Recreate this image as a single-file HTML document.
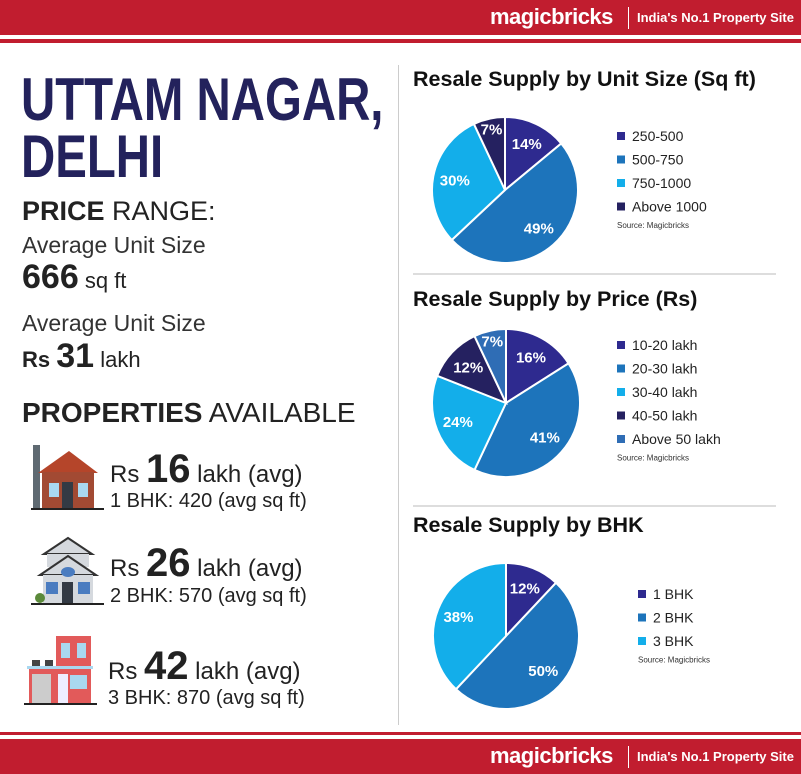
<!DOCTYPE html>
<html><head><meta charset="utf-8">
<style>
body{margin:0;width:801px;height:774px;overflow:hidden;background:#fff;font-family:"Liberation Sans",sans-serif;position:relative}
.abs{position:absolute;white-space:nowrap}
.band{position:absolute;left:0;width:801px;background:#c11d2f}
.logo{color:#fff;font-weight:bold;font-size:22px;letter-spacing:-0.5px}
.tag{color:#fff;font-weight:bold;font-size:13px}
.title{font-weight:bold;color:#23225c;font-size:60px;line-height:60px;transform:scaleX(0.79);transform-origin:0 0}
.dk{color:#222}
.pm{font-size:24px;line-height:40px}
.ps{font-size:20px;line-height:20px}
</style></head><body>
<div class="band" style="top:0;height:35px"></div>
<div class="band" style="top:39px;height:4px"></div>
<div class="abs logo" style="left:490px;top:4px">magicbricks</div>
<div class="abs" style="left:628px;top:7px;width:1px;height:22px;background:#fff"></div>
<div class="abs tag" style="left:637px;top:10px">India's No.1 Property Site</div>

<div class="band" style="top:732px;height:3px"></div>
<div class="band" style="top:739px;height:35px"></div>
<div class="abs logo" style="left:490px;top:743px">magicbricks</div>
<div class="abs" style="left:628px;top:746px;width:1px;height:22px;background:#fff"></div>
<div class="abs tag" style="left:637px;top:749px">India's No.1 Property Site</div>

<div class="abs" style="left:398px;top:65px;width:1px;height:660px;background:#ccc"></div>

<div class="abs title" style="left:21px;top:70px">UTTAM NAGAR,</div>
<div class="abs title" style="left:21px;top:127px">DELHI</div>
<div class="abs dk" style="left:22px;top:196px;font-size:27px"><b>PRICE</b> RANGE:</div>
<div class="abs" style="left:22px;top:232px;font-size:23px;color:#333">Average Unit Size</div>
<div class="abs dk" style="left:22px;top:258px;font-size:22px"><b style="font-size:34px">666</b> sq ft</div>
<div class="abs" style="left:22px;top:310px;font-size:23px;color:#333">Average Unit Size</div>
<div class="abs dk" style="left:22px;top:337px;font-size:22px"><b>Rs</b> <b style="font-size:34px">31</b> lakh</div>
<div class="abs dk" style="left:22px;top:397px;font-size:28px"><b>PROPERTIES</b> AVAILABLE</div>

<svg class="abs" style="left:0;top:430px" width="400" height="300">
 <g>
  <rect x="33" y="15" width="7" height="63" fill="#5f6a72"/>
  <polygon points="38,43 69,21 98,43" fill="#b5452a"/>
  <rect x="42" y="42" width="52" height="36" fill="#a24a33"/>
  <rect x="49" y="53" width="10" height="14" fill="#a9d8f0"/><rect x="78" y="53" width="10" height="14" fill="#a9d8f0"/>
  <rect x="62" y="52" width="11" height="26" fill="#333a44"/>
  <rect x="31" y="78" width="73" height="2" fill="#222"/>
 </g>
 <g>
  <polygon points="44,124 68,108 92,124" fill="#d5d9de" stroke="#333" stroke-width="2"/>
  <rect x="47" y="124" width="42" height="13" fill="#d5d9de"/>
  <polygon points="40,145 68,126 96,145" fill="#d5d9de" stroke="#333" stroke-width="2"/>
  <rect x="43" y="145" width="50" height="28" fill="#d5d9de"/>
  <ellipse cx="68" cy="142" rx="7" ry="5" fill="#4a7cc0"/>
  <rect x="46" y="152" width="12" height="12" fill="#4a7cc0"/><rect x="78" y="152" width="12" height="12" fill="#4a7cc0"/>
  <rect x="62" y="152" width="11" height="21" fill="#333a44"/>
  <circle cx="40" cy="168" r="5" fill="#5b8a3a"/>
  <rect x="31" y="173" width="73" height="2" fill="#222"/>
 </g>
 <g>
  <rect x="56" y="206" width="35" height="30" fill="#e25a5a"/>
  <rect x="61" y="213" width="9" height="15" fill="#a9d8f0"/><rect x="77" y="213" width="9" height="15" fill="#a9d8f0"/>
  <rect x="32" y="230" width="8" height="6" fill="#444"/><rect x="45" y="230" width="8" height="6" fill="#444"/>
  <rect x="27" y="236" width="66" height="3" fill="#a9d8f0"/>
  <rect x="29" y="239" width="62" height="34" fill="#e25a5a"/>
  <rect x="32" y="244" width="19" height="29" fill="#ccc"/>
  <rect x="58" y="244" width="10" height="29" fill="#eef"/>
  <rect x="70" y="245" width="17" height="14" fill="#a9d8f0"/>
  <rect x="24" y="273" width="73" height="2" fill="#222"/>
 </g>
</svg>

<div class="abs dk pm" style="left:110px;top:449px">Rs <b style="font-size:40px">16</b> lakh (avg)</div>
<div class="abs dk ps" style="left:110px;top:491px">1 BHK: 420 (avg sq ft)</div>
<div class="abs dk pm" style="left:110px;top:543px">Rs <b style="font-size:40px">26</b> lakh (avg)</div>
<div class="abs dk ps" style="left:110px;top:586px">2 BHK: 570 (avg sq ft)</div>
<div class="abs dk pm" style="left:108px;top:646px">Rs <b style="font-size:40px">42</b> lakh (avg)</div>
<div class="abs dk ps" style="left:108px;top:688px">3 BHK: 870 (avg sq ft)</div>

<svg id="charts" class="abs" style="left:0;top:0" width="801" height="774">
 <text x="413" y="86" font-size="21.5" font-weight="bold" fill="#111">Resale Supply by Unit Size (Sq ft)</text>
 <line x1="413" y1="274" x2="776" y2="274" stroke="#bbb"/>
 <text x="413" y="306" font-size="21.5" font-weight="bold" fill="#111">Resale Supply by Price (Rs)</text>
 <line x1="413" y1="506" x2="776" y2="506" stroke="#bbb"/>
 <text x="413" y="532" font-size="21.5" font-weight="bold" fill="#111">Resale Supply by BHK</text>
</svg>
<script>
const sizeCats=["250-500","500-750","750-1000","Above 1000"];
const sizeVals=[14,49,30,7];
const priceCats=["10-20 lakh","20-30 lakh","30-40 lakh","40-50 lakh","Above 50 lakh"];
const priceVals=[16,41,24,12,7];
const bhkCats=["1 BHK","2 BHK","3 BHK"];
const bhkVals=[12,50,38];
const sizeColors=["#2e2a8f","#1d74bb","#13aeea","#252160"];
const priceColors=["#2e2a8f","#1d74bb","#13aeea","#252160","#2f6db5"];
const bhkColors=["#2e2a8f","#1d74bb","#13aeea"];
const NS="http://www.w3.org/2000/svg";
const svg=document.getElementById("charts");
function mk(t,a){const e=document.createElementNS(NS,t);for(const k in a)e.setAttribute(k,a[k]);svg.appendChild(e);return e;}
function pie(id,cx,cy,r,cats,vals,cols,lx,ly,lstep){
 const tot=vals.reduce((a,b)=>a+b,0);let a0=-Math.PI/2;
 vals.forEach((v,i)=>{
  const a1=a0+v/tot*2*Math.PI;
  const x0=cx+r*Math.cos(a0),y0=cy+r*Math.sin(a0),x1=cx+r*Math.cos(a1),y1=cy+r*Math.sin(a1);
  const p=mk("path",{d:`M${cx},${cy}L${x0},${y0}A${r},${r} 0 ${a1-a0>Math.PI?1:0} 1 ${x1},${y1}Z`,fill:cols[i],stroke:"#fff","stroke-width":2});
  
  
  const am=(a0+a1)/2,rr=v<10?r*0.85:r*0.7;
  const t=mk("text",{x:cx+rr*Math.cos(am),y:cy+rr*Math.sin(am)+5,"text-anchor":"middle","font-size":15,"font-weight":"bold",fill:"#fff"});
  t.textContent=v+"%";
  
  
  a0=a1;
 });
 cats.forEach((c,i)=>{
  const y=ly+i*lstep;
  const s=mk("rect",{x:lx,y:y-9,width:8,height:8,fill:cols[i]});
  
  
  const t=mk("text",{x:lx+15,y:y,"font-size":14,fill:"#222"});
  t.textContent=c;
  
  
 });
 const s=mk("text",{x:lx,y:ly+cats.length*lstep-7,"font-size":8,fill:"#333"});
 s.textContent="Source: Magicbricks";
 
 
}
pie("unit-size-pie",505,190,73,sizeCats,sizeVals,sizeColors,617,141,23.5);
pie("price-pie",506,403,74,priceCats,priceVals,priceColors,617,350,23.5);
pie("bhk-pie",506,636,73,bhkCats,bhkVals,bhkColors,638,599,23.5);
</script>
</body></html>
